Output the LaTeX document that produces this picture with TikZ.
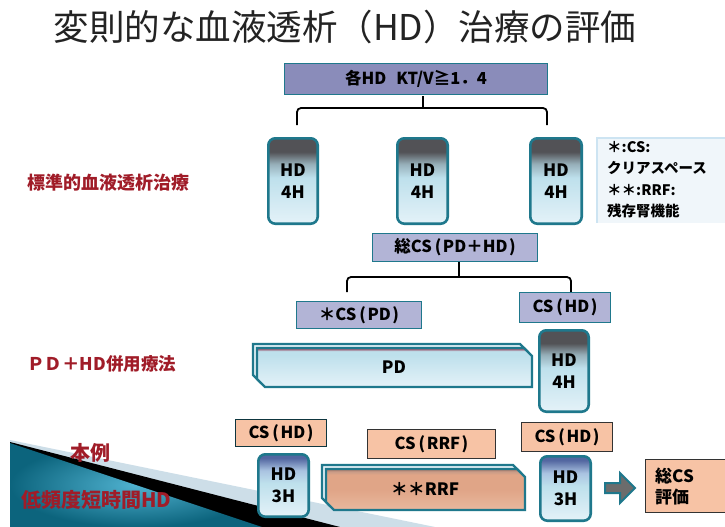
\documentclass[tikz,border=0pt]{standalone}
\usepackage{fontspec}
\setmainfont{Noto Sans CJK JP}
\usetikzlibrary{calc}
\newcommand\Lpar{\hspace{3pt}(\hspace{1.5pt}}
\newcommand\Rpar{\hspace{1.5pt})}
\definecolor{tealA}{RGB}{31,120,140}
\definecolor{boxA}{RGB}{138,140,186}
\definecolor{boxB}{RGB}{178,180,214}
\definecolor{peach}{RGB}{247,195,165}
\definecolor{redlab}{RGB}{160,28,40}
\definecolor{titlec}{RGB}{35,35,35}
\definecolor{noteb}{RGB}{240,246,250}
\definecolor{noteline}{RGB}{205,228,242}
\definecolor{hdbot}{RGB}{228,242,248}
\definecolor{hdmid}{RGB}{190,224,236}
\definecolor{hdmidB}{RGB}{150,175,185}
\definecolor{hdtop}{RGB}{82,82,86}
\definecolor{hdtopB}{RGB}{82,102,160}
\definecolor{hdmidC}{RGB}{170,195,225}
\definecolor{pdtop}{RGB}{140,70,90}
\definecolor{pdtopB}{RGB}{165,125,145}
\definecolor{rrfbot}{RGB}{233,184,158}
\definecolor{rrfmid}{RGB}{224,165,135}
\definecolor{rrftopB}{RGB}{200,155,135}
\definecolor{rrftop}{RGB}{165,115,98}
\definecolor{dots}{RGB}{205,222,232}
\definecolor{tealin}{RGB}{80,178,208}
\definecolor{tealout}{RGB}{12,100,125}
\pgfdeclareverticalshading{hdfour}{100bp}{color(0bp)=(hdbot); color(25bp)=(hdbot); color(52bp)=(hdmid); color(60bp)=(hdmidB); color(67bp)=(hdtop); color(75bp)=(hdtop); color(100bp)=(hdtop)}
\pgfdeclareverticalshading{hdthree}{100bp}{color(0bp)=(hdbot); color(25bp)=(hdbot); color(52bp)=(hdmid); color(62bp)=(hdmidC); color(72bp)=(hdtopB); color(75bp)=(hdtopB); color(100bp)=(hdtopB)}
\pgfdeclareverticalshading{pdshade}{100bp}{color(0bp)=(hdbot); color(25bp)=(hdbot); color(66bp)=(hdmid); color(71bp)=(hdmid); color(73bp)=(pdtopB); color(75bp)=(pdtop); color(100bp)=(pdtop)}
\pgfdeclareverticalshading{rrfshade}{100bp}{color(0bp)=(rrfbot); color(25bp)=(rrfbot); color(50bp)=(rrfmid); color(68bp)=(rrfmid); color(72bp)=(rrftopB); color(75bp)=(rrftop); color(100bp)=(rrftop)}
\tikzset{
  hdbox/.style={draw=tealA, line width=2.6pt, rounded corners=7pt, align=center,
    font=\bfseries\fontsize{17}{22}\selectfont, inner sep=0pt},
  hdfourbox/.style={hdbox, shading=hdfour},
  hdthreebox/.style={hdbox, shading=hdthree},
  lavbox/.style={draw=tealA, line width=0.9pt, inner sep=0pt, font=\bfseries\fontsize{16.5}{20}\selectfont},
  peachbox/.style={draw=black!80, fill=peach, line width=1pt, inner sep=0pt, font=\bfseries\fontsize{16.5}{20}\selectfont},
  redlabel/.style={text=redlab, font=\bfseries\fontsize{18}{22}\selectfont, inner sep=0pt},
  brace/.style={draw=black, line width=1.8pt, rounded corners=4pt},
  barback/.style={draw=tealA, line width=2.4pt, fill=hdbot},
  barfront/.style={draw=tealA, line width=2.4pt},
}
\begin{document}
\begin{tikzpicture}[x=1pt,y=-1pt]
\useasboundingbox (0,0) rectangle (725,527);
\fill[white] (0,0) rectangle (725,527);

% bottom-left wedge
\fill[dots] (10,440) -- (435,527) -- (10,527) -- cycle;
\fill[black] (10,442) -- (340,527) -- (10,527) -- cycle;
\shade[inner color=tealin, outer color=tealout] (10,443) -- (262,527) -- (10,527) -- cycle;

% title
\node[text=titlec, font=\fontsize{35.5}{40}\selectfont, inner sep=0pt] (title) at (345,27) {変則的な血液透析（HD）治療の評価};

% top box
\node[lavbox, fill=boxA, minimum width=263pt, minimum height=31pt, font=\bfseries\fontsize{16.5}{18}\selectfont] (top) at (416,79) {各HD\hspace{0.6em}KT/V≧1．4};

% standard HD boxes
\node[hdfourbox, minimum width=49.4pt, minimum height=85.4pt] (hdA) at (293,181) {HD\\4H};
\node[hdfourbox, minimum width=50.4pt, minimum height=85.4pt] (hdB) at (422.5,181) {HD\\4H};
\node[hdfourbox, minimum width=51.4pt, minimum height=85.4pt] (hdC) at (556,181) {HD\\4H};

% brace 1
\coordinate (b1L) at (297,125);
\coordinate (b1R) at (547,125);
\coordinate (b1M) at (423,108);
\draw[brace] (b1L) -- (297,108) -- (b1M) -- (b1R |- b1M) -- (b1R);
\draw[black, line width=1.8pt] (b1M) -- (423,96);

% note box
\fill[noteb] (597,138) rectangle (726,223);
\draw[noteline, line width=1.2pt] (726,138) -- (597,138) -- (597,223);
\node[anchor=north west, align=left, inner sep=0pt, font=\bfseries\fontsize{14.5}{21.5}\selectfont] (note) at (607,141) {＊:CS:\\クリアスペース\\＊＊:RRF:\\残存腎機能};

% red labels
\node[redlabel, anchor=west] (lab1) at (27,183) {標準的血液透析治療};
\node[redlabel, anchor=west, font=\bfseries\fontsize{17.5}{22}\selectfont] (lab2) at (27,364) {ＰＤ＋HD併用療法};
\node[redlabel, font=\bfseries\fontsize{20}{24}\selectfont] (lab3) at (90,453) {本例};
\node[redlabel, anchor=west, font=\bfseries\fontsize{20}{24}\selectfont] (lab4) at (21,500) {低頻度短時間HD};

% total CS
\node[lavbox, fill=boxB, minimum width=165pt, minimum height=28pt] (tot) at (455,247.5) {総CS\Lpar PD＋HD\Rpar};
\coordinate (b2L) at (347,292);
\coordinate (b2R) at (571,292);
\coordinate (b2M) at (459,277);
\draw[brace] (b2L) -- (347,277) -- (b2M) -- (b2R |- b2M) -- (b2R);
\draw[black, line width=1.8pt] (b2M) -- (459,262);

\node[lavbox, fill=boxB, minimum width=125pt, minimum height=27pt] (cspd) at (359,315) {＊CS\Lpar PD\Rpar};
\node[lavbox, fill=boxB, minimum width=91pt, minimum height=30pt] (cshdA) at (565,307.5) {CS\Lpar HD\Rpar};

% PD bar
\draw[barback] (253,344) -- (520,344) -- (528,352) -- (528,383) -- (261,383) -- (253,375) -- cycle;
\shade[shading=pdshade] (257,348) -- (524,348) -- (532,356) -- (532,387) -- (265,387) -- (257,379) -- cycle;
\draw[barfront] (257,348) -- (524,348) -- (532,356) -- (532,387) -- (265,387) -- (257,379) -- cycle;
\node[font=\bfseries\fontsize{17}{20}\selectfont] (pd) at (394,367) {PD};

\node[hdfourbox, minimum width=49.4pt, minimum height=81.4pt] (hdD) at (564,371) {HD\\4H};

% bottom row
\node[peachbox, draw=black!55!tealA, minimum width=91pt, minimum height=27pt] (cshdB) at (281,433) {CS\Lpar HD\Rpar};
\node[hdthreebox, minimum width=50.4pt, minimum height=62.4pt] (hdE) at (283.5,485.5) {HD\\3H};
\node[peachbox, minimum width=128pt, minimum height=29pt] (csrrf) at (431.5,444) {CS\Lpar RRF\Rpar};

\draw[barback] (322,465) -- (513,465) -- (521,473) -- (521,506) -- (330,506) -- (322,498) -- cycle;
\shade[shading=rrfshade] (326,469) -- (517,469) -- (525,477) -- (525,510) -- (334,510) -- (326,502) -- cycle;
\draw[barfront] (326,469) -- (517,469) -- (525,477) -- (525,510) -- (334,510) -- (326,502) -- cycle;
\node[font=\bfseries\fontsize{17}{20}\selectfont] (rrf) at (425,489) {＊＊RRF};

\node[peachbox, minimum width=91pt, minimum height=29pt] (cshdC) at (567,437) {CS\Lpar HD\Rpar};
\node[hdthreebox, minimum width=50.4pt, minimum height=64.4pt] (hdF) at (565.5,488.5) {HD\\3H};

% arrow
\draw[fill=gray!85!black, draw=tealA, line width=2pt, line join=miter]
  (605,483) -- (620,483) -- (620,473) -- (635,488) -- (620,503) -- (620,493) -- (605,493) -- cycle;

% total evaluation
\draw[peachbox] (645,459) rectangle (740,512);
\node[anchor=west, align=left, inner sep=0pt, font=\bfseries\fontsize{17}{21}\selectfont] (evl) at (655,487) {総CS\\評価};
\end{tikzpicture}
\end{document}
